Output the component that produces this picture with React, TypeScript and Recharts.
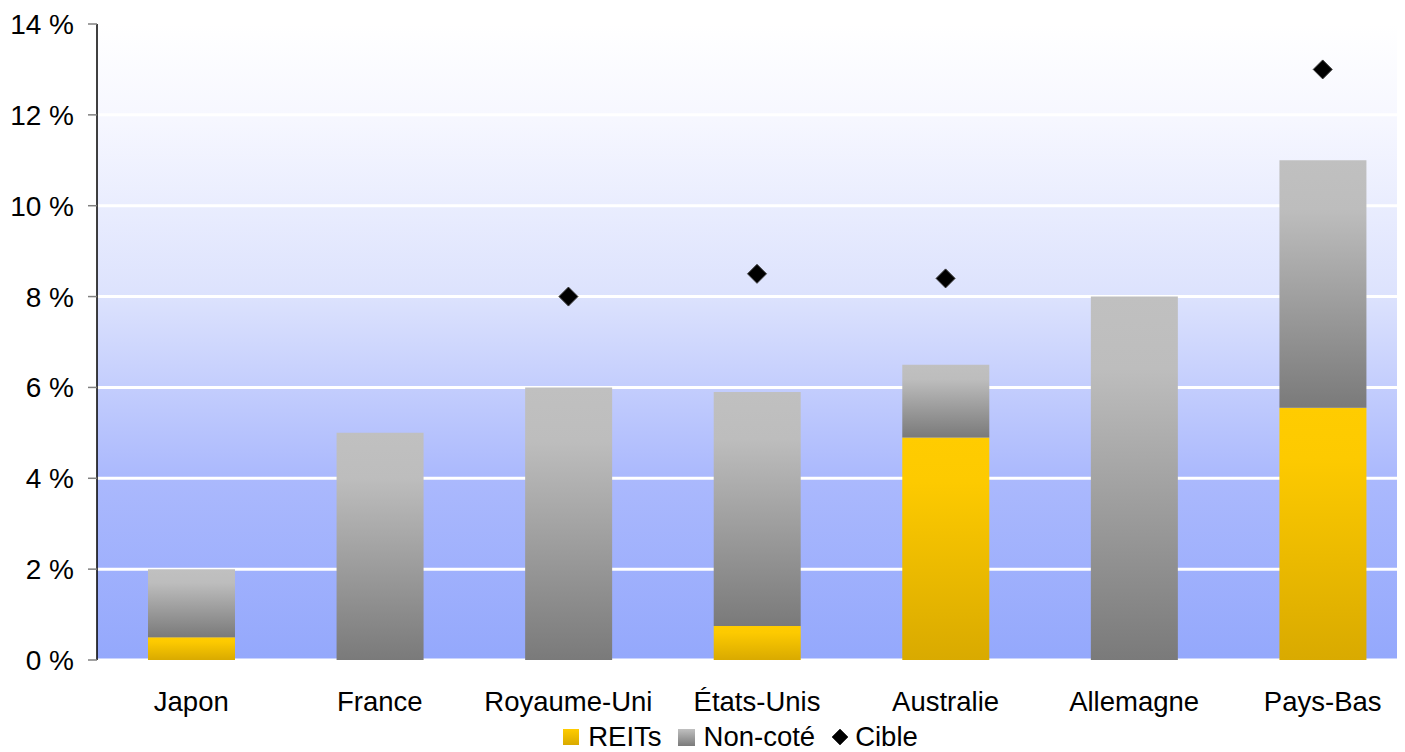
import React from "react";
import {
  ComposedChart,
  Bar,
  Line,
  XAxis,
  YAxis,
  CartesianGrid,
  Legend,
} from "recharts";

// Countries and allocation shares (% of portfolio)
const pays = ["Japon", "France", "Royaume-Uni", "États-Unis", "Australie", "Allemagne", "Pays-Bas"];
const reits = [0.5, 0, 0, 0.75, 4.9, 0, 5.55];
const nonCote = [1.5, 5, 6, 5.15, 1.6, 8, 5.45];
const cible: (number | null)[] = [null, null, 8, 8.5, 8.4, null, 13];
const yTicks = [0, 2, 4, 6, 8, 10, 12, 14];
const edgeTicks = [0, 1, 2, 3, 4, 5, 6, 7];

const data = pays.map((p, i) => ({
  pays: p,
  reits: reits[i],
  nonCote: nonCote[i],
  cible: cible[i],
}));

const FONT = "'Liberation Sans', Arial, sans-serif";

const Diamond = (props: any) => {
  const { cx, cy, value, index } = props;
  if (value == null || cx == null || cy == null) return <g key={`d-${index}`} />;
  const r = 9.5;
  return (
    <polygon
      key={`d-${index}`}
      points={`${cx},${cy - r} ${cx + r},${cy} ${cx},${cy + r} ${cx - r},${cy}`}
      fill="#000"
      stroke="#3a3a3a"
      strokeWidth={1}
    />
  );
};

const LegendContent = () => (
  <div
    style={{
      display: "flex",
      justifyContent: "center",
      alignItems: "center",
      fontFamily: FONT,
      fontSize: 27.5,
      color: "#000",
      height: 28,
      lineHeight: "28px",
      paddingLeft: 56,
      transform: "translateY(3px)",
    }}
  >
    <span style={{ width: 16, height: 16, background: "linear-gradient(#ffcc00, #d9aa00)", display: "inline-block" }} />
    <span style={{ marginLeft: 9, marginRight: 16 }}>REITs</span>
    <span style={{ width: 17, height: 17, background: "linear-gradient(#c0c0c0, #7a7a7a)", display: "inline-block" }} />
    <span style={{ marginLeft: 9, marginRight: 16 }}>Non-coté</span>
    <svg width={18} height={18} style={{ display: "inline-block" }}>
      <polygon points="9,1 17,9 9,17 1,9" fill="#000" stroke="#3a3a3a" strokeWidth={1} />
    </svg>
    <span style={{ marginLeft: 6 }}>Cible</span>
  </div>
);

export default function App() {
  return (
    <div style={{ width: 1397, height: 744, overflow: "hidden" }}>
      <ComposedChart
        width={1417}
        height={744}
        data={data}
        margin={{ top: 16, right: 8, left: 0, bottom: 4 }}
        style={{ fontFamily: FONT }}
      >
        <defs>
          <linearGradient id="bgGrad" x1="0" y1="0" x2="0" y2="1">
            <stop offset="0%" stopColor="#ffffff" />
            <stop offset="15%" stopColor="#f6f7ff" />
            <stop offset="43%" stopColor="#dce2fd" />
            <stop offset="71%" stopColor="#abb9fd" />
            <stop offset="100%" stopColor="#94a8fc" />
          </linearGradient>
          <linearGradient id="yellowGrad" x1="0" y1="0" x2="0" y2="1">
            <stop offset="0%" stopColor="#ffcc00" />
            <stop offset="20%" stopColor="#fdca00" />
            <stop offset="100%" stopColor="#d9aa00" />
          </linearGradient>
          <linearGradient id="greyGrad" x1="0" y1="0" x2="0" y2="1">
            <stop offset="0%" stopColor="#c0c0c0" />
            <stop offset="20%" stopColor="#bdbdbd" />
            <stop offset="100%" stopColor="#7a7a7a" />
          </linearGradient>
        </defs>
        <CartesianGrid
          vertical={false}
          stroke="#ffffff"
          strokeWidth={3}
          fill="url(#bgGrad)"
          fillOpacity={1}
          yAxisId="y"
          xAxisId="cat"
        />
        <XAxis
          xAxisId="edges"
          type="number"
          domain={[0, 7]}
          ticks={edgeTicks}
          allowDataOverflow
          height={0}
          tickSize={9}
          tickFormatter={() => ""}
          axisLine={{ stroke: "#000", strokeWidth: 1.5 }}
          tickLine={{ stroke: "#808080", strokeWidth: 1.5 }}
        />
        <XAxis
          xAxisId="cat"
          dataKey="pays"
          interval={0}
          height={60}
          axisLine={false}
          tickLine={false}
          tickSize={0}
          tickMargin={31}
          tick={{ fill: "#000", fontSize: 27.5, fontFamily: FONT }}
        />
        <YAxis
          yAxisId="y"
          domain={[0, 14]}
          ticks={yTicks}
          width={89}
          tickSize={9}
          tickMargin={14}
          tickFormatter={(v: number) => `${v} %`}
          axisLine={{ stroke: "#000", strokeWidth: 1.5 }}
          tickLine={{ stroke: "#808080", strokeWidth: 1.5 }}
          tick={{ fill: "#000", fontSize: 28, fontFamily: FONT }}
        />
        <Bar
          xAxisId="cat"
          yAxisId="y"
          dataKey="reits"
          name="REITs"
          stackId="a"
          barSize={87}
          fill="url(#yellowGrad)"
          isAnimationActive={false}
        />
        <Bar
          xAxisId="cat"
          yAxisId="y"
          dataKey="nonCote"
          name="Non-coté"
          stackId="a"
          barSize={87}
          fill="url(#greyGrad)"
          isAnimationActive={false}
        />
        <Line
          xAxisId="cat"
          yAxisId="y"
          dataKey="cible"
          name="Cible"
          stroke="none"
          dot={Diamond}
          activeDot={false}
          isAnimationActive={false}
        />
        <Legend verticalAlign="bottom" content={LegendContent} />
      </ComposedChart>
    </div>
  );
}
